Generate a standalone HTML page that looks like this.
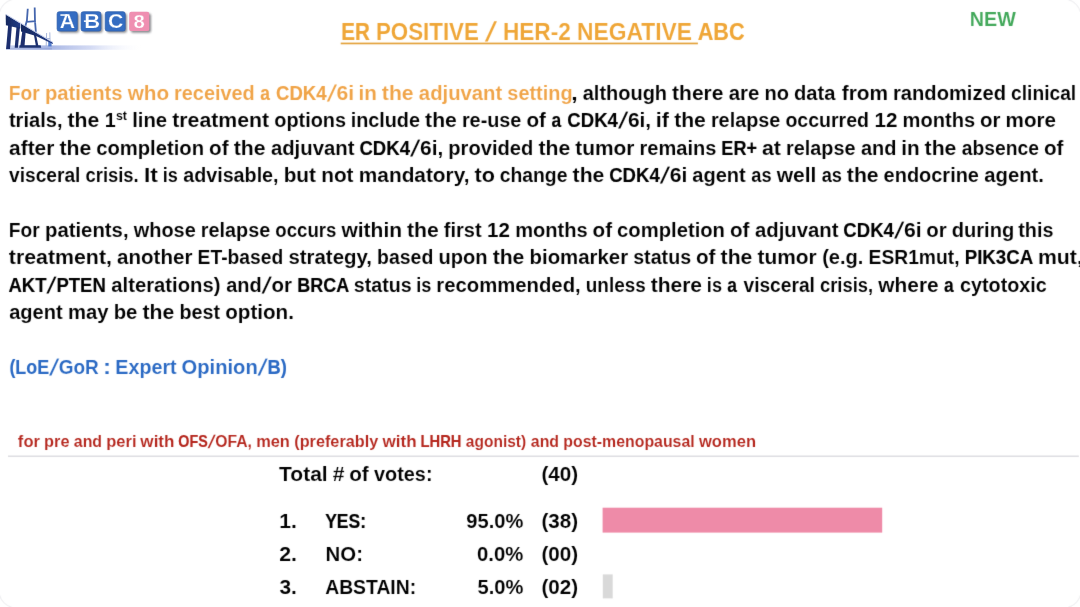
<!DOCTYPE html>
<html lang="en">
<head>
<meta charset="utf-8">
<title>ER POSITIVE / HER-2 NEGATIVE ABC</title>
<style>
html,body{margin:0;padding:0;background:#fff;font-family:"Liberation Sans",sans-serif;}
body{width:1080px;height:607px;overflow:hidden;font-family:"Liberation Sans",sans-serif;}
#slide{position:relative;width:1080px;height:607px;overflow:hidden;background:#fff;}
#txt{position:absolute;left:0;top:0;width:1080px;height:607px;filter:url(#tblur);}
.t{position:absolute;width:1400px;height:1.117em;line-height:1.117em;white-space:nowrap;font-weight:bold;}
.t span{display:inline-block;vertical-align:baseline;transform-origin:0 0;white-space:pre;-webkit-text-stroke:0.1px #fff;}

</style>
</head>
<body>
<div id="slide">
<svg id="logo" width="170" height="60" viewBox="0 0 170 60" style="position:absolute;left:0;top:0;overflow:visible">
<defs>
<linearGradient id="gnd" x1="0" y1="0" x2="1" y2="0">
<stop offset="0" stop-color="#c2ccec" stop-opacity="0.9"/>
<stop offset="0.32" stop-color="#a3b2e2" stop-opacity="0.95"/>
<stop offset="0.62" stop-color="#c6cff0" stop-opacity="0.75"/>
<stop offset="1" stop-color="#ffffff" stop-opacity="0"/>
</linearGradient>
<linearGradient id="deck" x1="0" y1="0" x2="1" y2="0">
<stop offset="0" stop-color="#16295f"/>
<stop offset="1" stop-color="#223c86"/>
</linearGradient>
<filter id="soft" x="-5%" y="-5%" width="110%" height="110%"><feGaussianBlur stdDeviation="0.45"/></filter>
<filter id="tsh" x="-20%" y="-20%" width="150%" height="150%"><feGaussianBlur stdDeviation="0.8"/></filter>
<filter id="tblur" x="0" y="0" width="100%" height="100%" color-interpolation-filters="sRGB"><feConvolveMatrix order="3" kernelMatrix="0.0074 0.0713 0.0074 0.0713 0.6853 0.0713 0.0074 0.0713 0.0074" edgeMode="duplicate" preserveAlpha="false"/></filter>
</defs>
<g filter="url(#soft)">
<!-- ground / water band -->
<rect x="6" y="45.4" width="138" height="4.4" fill="url(#gnd)"/>
<rect x="6" y="47.8" width="46" height="1.8" fill="#6f86c8" opacity="0.3"/>
<!-- distant small tower -->
<path d="M46.6 33 L46.2 46 M49.8 32.4 L50.2 46 M46.4 38.5 L50 38.5" stroke="#9fb0d8" stroke-width="0.9" fill="none"/>
<rect x="48.2" y="41.8" width="3.4" height="4.6" fill="#3b6bc8" opacity="0.85"/>
<!-- tower upper (lighter blue) -->
<path d="M27.7 9.6 L26.9 20.6 L25.2 26.4 M34.7 8.3 L35.0 21.4 L35.8 31 M26.9 21.9 L35.0 21.2" stroke="#4566ae" stroke-width="1.8" fill="none" stroke-linecap="square"/>
<!-- deck: left block -->
<polygon points="5.7,14.6 20.3,23.4 20.3,28.4 5.9,25.3" fill="url(#deck)"/>
<!-- deck: tapered right part -->
<polygon points="21.0,23.8 52.9,42.7 52.9,43.9 36,36.0 21.0,31.6" fill="url(#deck)"/>
<!-- light top surface of the deck -->
<path d="M5.9 14.4 L52.9 42.3" stroke="#b9c4e6" stroke-width="0.9" fill="none"/>
<!-- piers -->
<polygon points="8.2,24.8 11.9,25.6 10.0,49 6.1,49" fill="#1a2f6e"/>
<polygon points="16.5,26.8 19.9,27.6 17.9,47.8 14.7,47.8" fill="#1a2f6e"/>
<!-- tower legs below deck -->
<polygon points="22.4,30.5 25.7,31.4 24.5,46 20.3,46" fill="#1a2f6e"/>
<polygon points="33.7,33.5 36.0,34.6 38.4,46 35.9,46" fill="#1a2f6e"/>
<!-- tower base -->
<polygon points="19.6,45.3 40.6,45.3 41.2,47.8 19.2,47.8" fill="#1b3070"/>
</g>
<!-- tiles -->
<g>
<g filter="url(#tsh)" fill="#6d6d72" opacity="0.8">
<rect x="58.8" y="13.4" width="20.2" height="19.4" rx="2.2"/>
<rect x="82.8" y="13.4" width="19.8" height="19.4" rx="2.2"/>
<rect x="106.9" y="13.4" width="20" height="19.4" rx="2.2"/>
<rect x="130.9" y="13.4" width="20.1" height="19.4" rx="2.2"/>
</g>
<g filter="url(#soft)">
<rect x="57.1" y="11.7" width="20.2" height="19.4" rx="2.2" fill="#356dc2" stroke="#2b5cab" stroke-width="0.7"/>
<rect x="81.1" y="11.7" width="19.8" height="19.4" rx="2.2" fill="#356dc2" stroke="#2b5cab" stroke-width="0.7"/>
<rect x="105.2" y="11.7" width="20" height="19.4" rx="2.2" fill="#356dc2" stroke="#2b5cab" stroke-width="0.7"/>
<rect x="129.2" y="11.7" width="20.1" height="19.4" rx="2.2" fill="#ef8fb1"/>
<text font-family="'Liberation Sans', sans-serif" font-weight="bold" font-size="20" fill="#fff" stroke="#356dc2" stroke-width="0.25" y="28.1"><tspan x="59.65" textLength="15.3" lengthAdjust="spacingAndGlyphs">A</tspan><tspan x="84.35" textLength="15.9" lengthAdjust="spacingAndGlyphs">B</tspan><tspan x="108.05" textLength="15.3" lengthAdjust="spacingAndGlyphs">C</tspan><tspan x="133.55" y="27.9" font-size="17.8" stroke="#ef8fb1" textLength="11.3" lengthAdjust="spacingAndGlyphs">8</tspan></text>
<rect x="60.4" y="14.3" width="7.0" height="1.5" fill="#fff"/>
<rect x="83.9" y="20.4" width="3.6" height="1.5" fill="#fff"/>
</g>
</g>
</svg>

<div id="txt">
<svg id="shapes" width="1080" height="607" viewBox="0 0 1080 607" style="position:absolute;left:0;top:0">
<rect x="340.7" y="42.6" width="357.2" height="1.7" fill="#E3A23C"/>
<rect x="8" y="455.5" width="1070.8" height="1.5" fill="#DEDEE2"/>
<rect x="602.6" y="507.7" width="279.6" height="24.9" fill="#EE8BA8"/>
<rect x="602.8" y="574.4" width="9.9" height="24" fill="#D9D9D9"/>
<rect x="-1" y="-1" width="1082" height="609" rx="17.5" ry="17.5" fill="none" stroke="#F0F0F2" stroke-width="1.1"/>
</svg>

<div class="t" id="title" style="left:341px;top:18.00px;font-size:24.50px;color:#EFA637">
<span style="width:34px;transform:translateX(0.33px) scaleX(0.8390);-webkit-text-stroke:0.22px #EFA637">ER </span><span style="width:112px;transform:translateX(0.91px) scaleX(0.9111)">POSITIVE </span><span style="width:15px;transform-origin:0 50%;transform:translateX(0.53px) skewX(-16.1deg) scaleY(1.113)">/ </span><span style="width:75px;transform:translateX(0.90px) scaleX(0.9228)">HER-2 </span><span style="width:120px;transform:translateX(0.02px) scaleX(0.9313)">NEGATIVE </span><span style="width:48px;transform:translateX(0.66px) scaleX(0.8841);-webkit-text-stroke:0.16px #EFA637">ABC</span>
</div>
<div class="t" id="new" style="left:969px;top:8.00px;font-size:20.40px;color:#42A85A">
<span style="width:48px;transform:translateX(0.83px) scaleX(0.9682)">NEW</span>
</div>
<div class="t" id="l1" style="left:8px;top:82.00px;font-size:20.00px;color:#000">
<span style="width:36px;transform:translateX(0.85px) scaleX(0.9571);color:#F0A448">For </span><span style="width:83px;transform:translateX(0.92px) scaleX(1.0137);color:#F0A448">patients </span><span style="width:47px;transform:translateX(0.68px) scaleX(1.0366);color:#F0A448">who </span><span style="width:86px;transform:translateX(0.08px) scaleX(0.9939);color:#F0A448">received </span><span style="width:16px;transform:translateX(0.29px) scaleX(0.8685);color:#F0A448;-webkit-text-stroke:0.14px #F0A448">a </span><span style="width:52px;transform:translateX(0.08px) scaleX(0.8832);color:#F0A448;-webkit-text-stroke:0.13px #F0A448;font-size:21.00px">CDK4</span><span style="width:8px;transform-origin:0 50%;transform:translateX(0.95px) skewX(-16.5deg) scaleY(1.144);color:#F0A448">/</span><span style="width:22px;transform:translateX(0.58px) scaleX(1.0575);color:#F0A448">6i </span><span style="width:23px;transform:translateX(0.48px) scaleX(1.0327);color:#F0A448">in </span><span style="width:37px;transform:translateX(0.85px) scaleX(1.0561);color:#F0A448">the </span><span style="width:89px;transform:translateX(0.87px) scaleX(1.0140);color:#F0A448">adjuvant </span><span style="width:64px;transform:translateX(0.37px) scaleX(0.9946);color:#F0A448">setting</span><span style="width:11px;transform:translateX(0.22px) scaleX(1.1597)">, </span><span style="width:90px;transform:translateX(0.74px) scaleX(0.9988)">although </span><span style="width:56px;transform:translateX(0.11px) scaleX(1.0480)">there </span><span style="width:36px;transform:translateX(0.70px) scaleX(1.0197)">are </span><span style="width:29px;transform:translateX(0.52px) scaleX(1.0032)">no </span><span style="width:48px;transform:translateX(0.96px) scaleX(1.0081)">data </span><span style="width:52px;transform:translateX(0.74px) scaleX(1.0416)">from </span><span style="width:118px;transform:translateX(0.02px) scaleX(1.0068)">randomized </span><span style="width:67px;transform:translateX(0.09px) scaleX(0.9593)">clinical</span>
</div>
<div class="t" id="l2" style="left:8px;top:109.00px;font-size:20.00px;color:#000">
<span style="width:59px;transform:translateX(0.89px) scaleX(1.0051)">trials, </span><span style="width:37px;transform:translateX(0.53px) scaleX(1.0577)">the </span><span style="width:11px;transform:translateX(0.67px) scaleX(0.9398);font-size:21.00px">1</span><span style="width:17px;transform:translateX(0.89px) scaleX(0.9561);font-size:13.00px;position:relative;top:-7px">st </span><span style="width:40px;transform:translateX(0.15px) scaleX(1.0155)">line </span><span style="width:102px;transform:translateX(0.24px) scaleX(1.0631)">treatment </span><span style="width:76px;transform:translateX(0.26px) scaleX(0.9947)">options </span><span style="width:75px;transform:translateX(0.63px) scaleX(0.9908)">include </span><span style="width:36px;transform:translateX(0.12px) scaleX(1.0577)">the </span><span style="width:65px;transform:translateX(0.89px) scaleX(0.9913)">re-use </span><span style="width:25px;transform:translateX(0.45px) scaleX(1.0321)">of </span><span style="width:16px;transform:translateX(0.52px) scaleX(0.8698);-webkit-text-stroke:0.14px #000">a </span><span style="width:53px;transform:translateX(0.34px) scaleX(0.8845);-webkit-text-stroke:0.13px #000;font-size:21.00px">CDK4</span><span style="width:7px;transform-origin:0 50%;transform:translateX(0.29px) skewX(-16.5deg) scaleY(1.145)">/</span><span style="width:28px;transform:translateX(0.94px) scaleX(1.0450)">6i, </span><span style="width:19px;transform:translateX(0.68px) scaleX(1.0815)">if </span><span style="width:36px;transform:translateX(0.13px) scaleX(1.0577)">the </span><span style="width:75px;transform:translateX(0.90px) scaleX(0.9906)">relapse </span><span style="width:89px;transform:translateX(0.38px) scaleX(0.9763)">occurred </span><span style="width:28px;transform:translateX(0.43px) scaleX(0.9820);font-size:21.00px">12 </span><span style="width:77px;transform:translateX(0.59px) scaleX(1.0038)">months </span><span style="width:26px;transform:translateX(0.89px) scaleX(1.0227)">or </span><span style="width:52px;transform:translateX(0.61px) scaleX(1.0305)">more</span>
</div>
<div class="t" id="l3" style="left:9px;top:137.00px;font-size:20.00px;color:#000">
<span style="width:50px;transform:translateX(0.12px) scaleX(1.0421)">after </span><span style="width:37px;transform:translateX(0.45px) scaleX(1.0583)">the </span><span style="width:113px;transform:translateX(0.14px) scaleX(1.0117)">completion </span><span style="width:24px;transform:translateX(0.04px) scaleX(1.0327)">of </span><span style="width:37px;transform:translateX(0.78px) scaleX(1.0583)">the </span><span style="width:89px;transform:translateX(0.88px) scaleX(1.0161)">adjuvant </span><span style="width:53px;transform:translateX(0.38px) scaleX(0.8850);-webkit-text-stroke:0.13px #000;font-size:21.00px">CDK4</span><span style="width:8px;transform-origin:0 50%;transform:translateX(0.37px) skewX(-16.5deg) scaleY(1.146)">/</span><span style="width:28px;transform:translateX(0.02px) scaleX(1.0456)">6i, </span><span style="width:90px;transform:translateX(0.33px) scaleX(1.0060)">provided </span><span style="width:37px;transform:translateX(0.47px) scaleX(1.0583)">the </span><span style="width:64px;transform:translateX(0.31px) scaleX(1.0441)">tumor </span><span style="width:82px;transform:translateX(0.56px) scaleX(1.0008)">remains </span><span style="width:40px;transform:translateX(0.36px) scaleX(0.8582);-webkit-text-stroke:0.16px #000;font-size:21.00px">ER+ </span><span style="width:25px;transform:translateX(0.98px) scaleX(1.0645)">at </span><span style="width:74px;transform:translateX(0.06px) scaleX(0.9912)">relapse </span><span style="width:41px;transform:translateX(0.90px) scaleX(0.9980)">and </span><span style="width:23px;transform:translateX(0.17px) scaleX(1.0348)">in </span><span style="width:37px;transform:translateX(0.60px) scaleX(1.0583)">the </span><span style="width:82px;transform:translateX(0.72px) scaleX(0.9640)">absence </span><span style="width:21px;transform:translateX(0.96px) scaleX(1.0327)">of</span>
</div>
<div class="t" id="l4" style="left:8px;top:164.00px;font-size:20.00px;color:#000">
<span style="width:77px;transform:translateX(0.97px) scaleX(0.9588)">visceral </span><span style="width:58px;transform:translateX(0.50px) scaleX(0.9201)">crisis. </span><span style="width:19px;transform:translateX(1.00px) scaleX(1.1365)">It </span><span style="width:21px;transform:translateX(0.83px) scaleX(0.9076)">is </span><span style="width:100px;transform:translateX(0.20px) scaleX(0.9859)">advisable, </span><span style="width:38px;transform:translateX(0.65px) scaleX(1.0394)">but </span><span style="width:37px;transform:translateX(0.21px) scaleX(1.0401)">not </span><span style="width:116px;transform:translateX(0.84px) scaleX(1.0409)">mandatory, </span><span style="width:25px;transform:translateX(0.47px) scaleX(1.0800)">to </span><span style="width:73px;transform:translateX(0.71px) scaleX(0.9674)">change </span><span style="width:37px;transform:translateX(0.59px) scaleX(1.0576)">the </span><span style="width:53px;transform:translateX(0.14px) scaleX(0.8844);-webkit-text-stroke:0.13px #000;font-size:21.00px">CDK4</span><span style="width:7px;transform-origin:0 50%;transform:translateX(0.08px) skewX(-16.5deg) scaleY(1.145)">/</span><span style="width:23px;transform:translateX(0.72px) scaleX(1.0589)">6i </span><span style="width:59px;transform:translateX(0.31px) scaleX(1.0015)">agent </span><span style="width:25px;transform:translateX(0.26px) scaleX(0.9108)">as </span><span style="width:45px;transform:translateX(0.64px) scaleX(1.0496)">well </span><span style="width:25px;transform:translateX(0.65px) scaleX(0.9108)">as </span><span style="width:37px;transform:translateX(0.85px) scaleX(1.0576)">the </span><span style="width:101px;transform:translateX(0.62px) scaleX(0.9974)">endocrine </span><span style="width:61px;transform:translateX(0.34px) scaleX(1.0129)">agent.</span>
</div>
<div class="t" id="l5" style="left:8px;top:219.00px;font-size:20.00px;color:#000">
<span style="width:36px;transform:translateX(0.85px) scaleX(0.9584)">For </span><span style="width:89px;transform:translateX(0.97px) scaleX(1.0164)">patients, </span><span style="width:67px;transform:translateX(0.73px) scaleX(0.9959)">whose </span><span style="width:75px;transform:translateX(0.79px) scaleX(0.9905)">relapse </span><span style="width:66px;transform:translateX(0.31px) scaleX(0.9310)">occurs </span><span style="width:66px;transform:translateX(0.47px) scaleX(1.0490)">within </span><span style="width:36px;transform:translateX(0.07px) scaleX(1.0576)">the </span><span style="width:44px;transform:translateX(0.81px) scaleX(1.0006)">first </span><span style="width:28px;transform:translateX(0.09px) scaleX(0.9819);font-size:21.00px">12 </span><span style="width:77px;transform:translateX(0.25px) scaleX(1.0037)">months </span><span style="width:25px;transform:translateX(0.53px) scaleX(1.0320)">of </span><span style="width:112px;transform:translateX(0.12px) scaleX(1.0110)">completion </span><span style="width:25px;transform:translateX(0.94px) scaleX(1.0320)">of </span><span style="width:89px;transform:translateX(0.93px) scaleX(1.0154)">adjuvant </span><span style="width:53px;transform:translateX(0.37px) scaleX(0.8844);-webkit-text-stroke:0.13px #000;font-size:21.00px">CDK4</span><span style="width:7px;transform-origin:0 50%;transform:translateX(0.32px) skewX(-16.5deg) scaleY(1.145)">/</span><span style="width:23px;transform:translateX(0.96px) scaleX(1.0590)">6i </span><span style="width:25px;transform:translateX(0.22px) scaleX(1.0227)">or </span><span style="width:67px;transform:translateX(0.74px) scaleX(1.0047)">during </span><span style="width:37px;transform:translateX(0.28px) scaleX(0.9880)">this</span>
</div>
<div class="t" id="l6" style="left:8px;top:246.00px;font-size:20.00px;color:#000">
<span style="width:109px;transform:translateX(0.87px) scaleX(1.0656)">treatment, </span><span style="width:80px;transform:translateX(0.09px) scaleX(1.0268)">another </span><span style="width:91px;transform:translateX(0.61px) scaleX(0.9632)">ET-based </span><span style="width:89px;transform:translateX(0.38px) scaleX(1.0207)">strategy, </span><span style="width:61px;transform:translateX(0.11px) scaleX(0.9714)">based </span><span style="width:54px;transform:translateX(0.47px) scaleX(1.0053)">upon </span><span style="width:37px;transform:translateX(0.65px) scaleX(1.0577)">the </span><span style="width:104px;transform:translateX(0.55px) scaleX(1.0191)">biomarker </span><span style="width:62px;transform:translateX(0.18px) scaleX(0.9829)">status </span><span style="width:25px;transform:translateX(0.89px) scaleX(1.0321)">of </span><span style="width:37px;transform:translateX(0.62px) scaleX(1.0577)">the </span><span style="width:65px;transform:translateX(0.43px) scaleX(1.0435)">tumor </span><span style="width:46px;transform:translateX(0.14px) scaleX(1.0034)">(e.g. </span><span style="width:96px;transform:translateX(0.54px) scaleX(0.9630)">ESR1mut, </span><span style="width:74px;transform:translateX(0.66px) scaleX(0.8912);-webkit-text-stroke:0.13px #000;font-size:21.00px">PIK3CA </span><span style="width:46px;transform:translateX(0.01px) scaleX(1.0603)">mut,</span>
</div>
<div class="t" id="l7" style="left:8px;top:274.00px;font-size:20.00px;color:#000">
<span style="width:40px;transform:translateX(0.50px) scaleX(0.8813);-webkit-text-stroke:0.14px #000;font-size:21.00px">AKT</span><span style="width:8px;transform-origin:0 50%;transform:translateX(0.66px) skewX(-16.5deg) scaleY(1.145)">/</span><span style="width:55px;transform:translateX(0.38px) scaleX(0.8832);-webkit-text-stroke:0.13px #000;font-size:21.00px">PTEN </span><span style="width:115px;transform:translateX(0.33px) scaleX(1.0124)">alterations) </span><span style="width:37px;transform:translateX(0.25px) scaleX(0.9974)">and</span><span style="width:8px;transform-origin:0 50%;transform:translateX(0.91px) skewX(-16.5deg) scaleY(1.145)">/</span><span style="width:26px;transform:translateX(0.48px) scaleX(1.0227)">or </span><span style="width:56px;transform:translateX(0.25px) scaleX(0.8554);-webkit-text-stroke:0.17px #000;font-size:21.00px">BRCA </span><span style="width:63px;transform:translateX(0.72px) scaleX(0.9828)">status </span><span style="width:20px;transform:translateX(0.29px) scaleX(0.9077)">is </span><span style="width:149px;transform:translateX(0.31px) scaleX(1.0149)">recommended, </span><span style="width:65px;transform:translateX(0.76px) scaleX(0.9467)">unless </span><span style="width:56px;transform:translateX(0.66px) scaleX(1.0495)">there </span><span style="width:21px;transform:translateX(0.85px) scaleX(0.9077)">is </span><span style="width:16px;transform:translateX(0.29px) scaleX(0.8698);-webkit-text-stroke:0.14px #000">a </span><span style="width:76px;transform:translateX(0.46px) scaleX(0.9589)">visceral </span><span style="width:59px;transform:translateX(1.00px) scaleX(0.9175)">crisis, </span><span style="width:66px;transform:translateX(0.37px) scaleX(1.0423)">where </span><span style="width:16px;transform:translateX(0.04px) scaleX(0.8698);-webkit-text-stroke:0.14px #000">a </span><span style="width:88px;transform:translateX(0.00px) scaleX(0.9894)">cytotoxic</span>
</div>
<div class="t" id="l8" style="left:9px;top:301.00px;font-size:20.00px;color:#000">
<span style="width:58px;transform:translateX(0.15px) scaleX(1.0020)">agent </span><span style="width:46px;transform:translateX(0.93px) scaleX(1.0131)">may </span><span style="width:29px;transform:translateX(0.71px) scaleX(1.0157)">be </span><span style="width:37px;transform:translateX(0.53px) scaleX(1.0581)">the </span><span style="width:46px;transform:translateX(0.48px) scaleX(0.9873)">best </span><span style="width:70px;transform:translateX(0.21px) scaleX(1.0310)">option.</span>
</div>
<div class="t" id="loe" style="left:9px;top:356.00px;font-size:20.00px;color:#2B6AC4">
<span style="width:42px;transform:translateX(0.43px) scaleX(0.8918);-webkit-text-stroke:0.12px #2B6AC4">(LoE</span><span style="width:7px;transform-origin:0 50%;transform:translateX(0.26px) skewX(-16.5deg) scaleY(1.147)">/</span><span style="width:44px;transform:translateX(0.77px) scaleX(0.9489)">GoR </span><span style="width:13px;transform:translateX(0.96px) scaleX(1.2081)">: </span><span style="width:66px;transform:translateX(0.29px) scaleX(0.9857)">Expert </span><span style="width:78px;transform:translateX(0.61px) scaleX(1.0074)">Opinion</span><span style="width:8px;transform-origin:0 50%;transform:translateX(0.78px) skewX(-16.5deg) scaleY(1.147)">/</span><span style="width:21px;transform:translateX(0.56px) scaleX(0.8729);-webkit-text-stroke:0.15px #2B6AC4;font-size:21.00px">B)</span>
</div>
<div class="t" id="red" style="left:17px;top:432.00px;font-size:16.40px;color:#B5271E">
<span style="width:27px;transform:translateX(0.87px) scaleX(1.0115)">for </span><span style="width:29px;transform:translateX(0.12px) scaleX(0.9952)">pre </span><span style="width:33px;transform:translateX(0.81px) scaleX(0.9702)">and </span><span style="width:34px;transform:translateX(0.27px) scaleX(1.0047)">peri </span><span style="width:38px;transform:translateX(0.37px) scaleX(1.0404)">with </span><span style="width:31px;transform:translateX(0.32px) scaleX(0.8319);-webkit-text-stroke:0.16px #B5271E;font-size:17.22px">OFS</span><span style="width:6px;transform-origin:0 50%;transform:translateX(0.40px) skewX(-16.1deg) scaleY(1.115)">/</span><span style="width:41px;transform:translateX(0.36px) scaleX(0.9122);font-size:17.22px">OFA, </span><span style="width:38px;transform:translateX(0.14px) scaleX(1.0010)">men </span><span style="width:88px;transform:translateX(0.24px) scaleX(0.9912)">(preferably </span><span style="width:38px;transform:translateX(0.49px) scaleX(1.0404)">with </span><span style="width:45px;transform:translateX(0.57px) scaleX(0.8560);-webkit-text-stroke:0.14px #B5271E;font-size:17.22px">LHRH </span><span style="width:65px;transform:translateX(0.82px) scaleX(0.9465)">agonist) </span><span style="width:33px;transform:translateX(0.81px) scaleX(0.9702)">and </span><span style="width:135px;transform:translateX(0.31px) scaleX(0.9681)">post-menopausal </span><span style="width:59px;transform:translateX(0.97px) scaleX(1.0098)">women</span>
</div>
<div class="t" id="tot" style="left:279px;top:463.00px;font-size:20.00px;color:#000">
<span style="width:53px;transform:translateX(0.07px) scaleX(1.0502)">Total </span><span style="width:17px;transform:translateX(0.64px) scaleX(1.0539)"># </span><span style="width:25px;transform:translateX(0.20px) scaleX(1.0346)">of </span><span style="width:167px;transform:translateX(0.08px) scaleX(0.9918)">votes: </span><span style="width:38px;transform:translateX(0.47px) scaleX(0.9827);font-size:21.00px">(40)</span>
</div>
<div class="t" id="r1n" style="left:279px;top:510.00px;font-size:20.00px;color:#000">
<span style="width:46px;transform:translateX(0.30px) scaleX(1.0047);font-size:21.00px">1. </span><span style="width:141px;transform:translateX(0.14px) scaleX(0.8337);-webkit-text-stroke:0.19px #000;font-size:21.00px">YES: </span><span style="width:75px;transform:translateX(0.35px) scaleX(0.9569);font-size:21.00px">95.0% </span><span style="width:38px;transform:translateX(0.47px) scaleX(0.9827);font-size:21.00px">(38)</span>
</div>
<div class="t" id="r2n" style="left:279px;top:543.00px;font-size:20.00px;color:#000">
<span style="width:46px;transform:translateX(0.14px) scaleX(1.0150);font-size:21.00px">2. </span><span style="width:152px;transform:translateX(0.60px) scaleX(0.9704);font-size:21.00px">NO: </span><span style="width:64px;transform:translateX(0.06px) scaleX(0.9669);font-size:21.00px">0.0% </span><span style="width:38px;transform:translateX(0.47px) scaleX(0.9827);font-size:21.00px">(00)</span>
</div>
<div class="t" id="r3n" style="left:279px;top:576.00px;font-size:20.00px;color:#000">
<span style="width:46px;transform:translateX(0.46px) scaleX(0.9949);font-size:21.00px">3. </span><span style="width:152px;transform:translateX(0.16px) scaleX(0.9213);font-size:21.00px">ABSTAIN: </span><span style="width:64px;transform:translateX(0.44px) scaleX(0.9589);font-size:21.00px">5.0% </span><span style="width:38px;transform:translateX(0.47px) scaleX(0.9827);font-size:21.00px">(02)</span>
</div>
</div>
</div>
</body>
</html>
